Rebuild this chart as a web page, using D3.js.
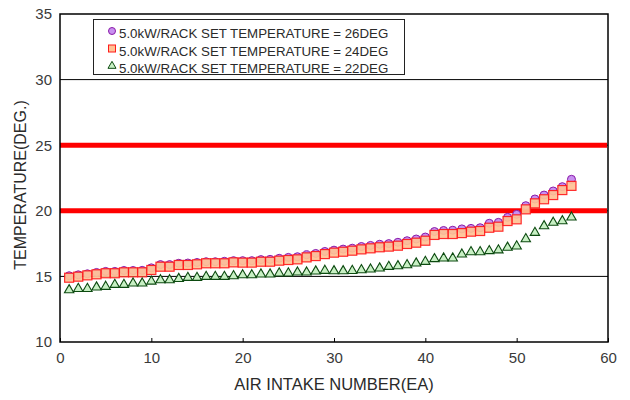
<html>
<head>
<script src="https://d3js.org/d3.v7.min.js"></script>
<style>
body { margin: 0; background: #fff; }
svg { display: block; font-family: 'Liberation Sans', Arial, sans-serif; }
</style>
</head>
<body>
<svg></svg>
<script>
var width = 630;
var height = 400;
var margin = { left: 60, right: 22, top: 14, bottom: 58 };

// intake 1..56
var intake = d3.range(1, 57);
var temp26 = [15.05, 15.12, 15.2, 15.3, 15.38, 15.38, 15.45, 15.45, 15.46, 15.65,
  15.9, 15.9, 16.0, 16.02, 16.06, 16.12, 16.12, 16.15, 16.2, 16.2,
  16.2, 16.28, 16.3, 16.38, 16.45, 16.5, 16.65, 16.75, 16.9, 17.0,
  17.08, 17.15, 17.28, 17.36, 17.45, 17.5, 17.6, 17.72, 17.85, 18.0,
  18.42, 18.5, 18.52, 18.62, 18.66, 18.71, 19.05, 19.12, 19.5, 19.73,
  20.39, 20.9, 21.2, 21.51, 21.84, 22.4];
var temp24 = [14.9, 14.98, 15.08, 15.16, 15.24, 15.24, 15.31, 15.31, 15.31, 15.49,
  15.74, 15.74, 15.87, 15.87, 15.92, 16.0, 16.0, 16.0, 16.07, 16.05,
  16.05, 16.12, 16.12, 16.2, 16.25, 16.3, 16.45, 16.55, 16.7, 16.81,
  16.88, 16.96, 17.06, 17.14, 17.22, 17.27, 17.34, 17.47, 17.57, 17.72,
  18.16, 18.23, 18.23, 18.3, 18.41, 18.46, 18.71, 18.79, 19.22, 19.35,
  20.11, 20.57, 20.88, 21.2, 21.58, 21.9];
var temp22 = [13.96, 14.06, 14.06, 14.17, 14.22, 14.37, 14.37, 14.47, 14.47, 14.62,
  14.72, 14.72, 14.82, 14.9, 14.9, 14.98, 14.98, 14.98, 15.03, 15.1,
  15.1, 15.16, 15.16, 15.24, 15.24, 15.31, 15.31, 15.39, 15.44, 15.41,
  15.41, 15.43, 15.49, 15.54, 15.62, 15.74, 15.79, 15.87, 16.0, 16.12,
  16.33, 16.38, 16.38, 16.68, 16.86, 16.86, 16.94, 17.0, 17.2, 17.3,
  17.85, 18.33, 18.84, 19.1, 19.22, 19.5];
var limits = [20, 25];
var xTicks = [0, 10, 20, 30, 40, 50, 60];
var yTicks = [10, 15, 20, 25, 30, 35];
var legendLabels = ["5.0kW/RACK SET TEMPERATURE = 26DEG",
  "5.0kW/RACK SET TEMPERATURE = 24DEG",
  "5.0kW/RACK SET TEMPERATURE = 22DEG"];

var svg = d3.select("svg").attr("width", width).attr("height", height);

var x = d3.scaleLinear().domain([0, 60]).range([margin.left, width - margin.right]);
var y = d3.scaleLinear().domain([10, 35]).range([height - margin.bottom, margin.top]);

// grid lines
svg.selectAll(".grid").data(yTicks.slice(1, -1)).enter().append("line")
  .attr("x1", x(0)).attr("x2", x(60))
  .attr("y1", function(d) { return y(d); }).attr("y2", function(d) { return y(d); })
  .style("stroke", "#000").style("stroke-width", 1);

// red limit lines
svg.selectAll(".limit").data(limits).enter().append("line")
  .attr("x1", x(0)).attr("x2", x(60) - 1)
  .attr("y1", function(d) { return y(d); }).attr("y2", function(d) { return y(d); })
  .style("stroke", "#ff0000").style("stroke-width", 5);

// axes
var xAxis = d3.axisBottom(x).tickValues(xTicks).tickSize(-4).tickPadding(10);
var yAxis = d3.axisLeft(y).tickValues(yTicks).tickSize(0).tickPadding(8);

var gx = svg.append("g").attr("transform", "translate(0," + y(10) + ")").call(xAxis);
var gy = svg.append("g").attr("transform", "translate(" + x(0) + ",0)").call(yAxis);
[gx, gy].forEach(function(g) {
  g.select(".domain").remove();
  g.selectAll("text").style("font-size", "15px").style("fill", "#3a3a3a");
  g.selectAll("line").style("stroke", "#000");
});

// frame
svg.append("rect")
  .attr("x", x(0)).attr("y", y(35))
  .attr("width", x(60) - x(0)).attr("height", y(10) - y(35))
  .style("fill", "none").style("stroke", "#000").style("stroke-width", 1.5);

// series
var circles = svg.selectAll(".c26").data(intake).enter().append("circle")
  .attr("cx", function(d) { return x(d); })
  .attr("cy", function(d, i) { return y(temp26[i]); })
  .attr("r", 4)
  .style("fill", "#c890f0").style("stroke", "#8a1aa8").style("stroke-width", 1);

var squares = svg.selectAll(".s24").data(intake).enter().append("rect")
  .attr("x", function(d) { return x(d) - 4.5; })
  .attr("y", function(d, i) { return y(temp24[i]) - 4.5; })
  .attr("width", 9).attr("height", 9)
  .style("fill", "#ffc294").style("stroke", "#ff1a1a").style("stroke-width", 1.2)
  .style("opacity", 0.92);

var tri = d3.symbol().type(d3.symbolTriangle).size(38);
svg.selectAll(".t22").data(intake).enter().append("path")
  .attr("d", tri)
  .attr("transform", function(d, i) { return "translate(" + x(d) + "," + y(temp22[i]) + ")"; })
  .style("fill", "#c8f0c4").style("stroke", "#0c4a10").style("stroke-width", 1.1);

// legend
svg.append("rect")
  .attr("x", 93.5).attr("y", 19.5).attr("width", 311).attr("height", 55)
  .style("fill", "#fff").style("stroke", "#222").style("stroke-width", 1);

var ly = [38, 55.5, 73];
svg.selectAll(".ltext").data(legendLabels).enter().append("text")
  .attr("x", 119).attr("y", function(d, i) { return ly[i]; })
  .style("font-size", "13.3px").style("fill", "#2a2a2a")
  .text(function(d) { return d; });

svg.append("circle").attr("cx", 112).attr("cy", 31).attr("r", 3.5)
  .style("fill", "#c890f0").style("stroke", "#8a1aa8");
svg.append("rect").attr("x", 108.5).attr("y", 45).attr("width", 7).attr("height", 7)
  .style("fill", "#ffc294").style("stroke", "#ff1a1a");
svg.append("path").attr("d", d3.symbol().type(d3.symbolTriangle).size(28))
  .attr("transform", "translate(112,66)")
  .style("fill", "#c8f0c4").style("stroke", "#0c4a10");

// axis titles
svg.append("text")
  .attr("x", (x(0) + x(60)) / 2).attr("y", 390)
  .attr("text-anchor", "middle")
  .style("font-size", "16.5px").style("fill", "#2a2a2a")
  .text("AIR INTAKE NUMBER(EA)");

svg.append("text")
  .attr("transform", "translate(26,185) rotate(-90)")
  .attr("text-anchor", "middle")
  .style("font-size", "16px").style("fill", "#2a2a2a")
  .text("TEMPERATURE(DEG.)");
</script>
</body>
</html>
